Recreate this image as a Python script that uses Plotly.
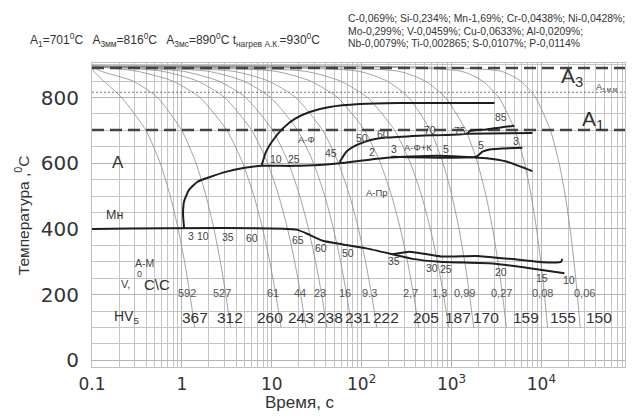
import math
import plotly.graph_objects as go

# ---------------- data ----------------
A3_T = 890
AS_T = 816
A1_T = 701

X_MIN_LOG, X_MAX_LOG = -1, 4.93
Y_MIN, Y_MAX = -20, 905

# thick transformation lines (time s, temperature C)
FERR_START_T = [7.74, 8.6, 10.3, 13.3, 18, 26.4, 44, 95, 264, 3005]
FERR_START_Y = [595, 634, 670, 706, 735, 756, 771, 780, 783, 783]

NOSE_T = [1.06, 1.03, 1.06, 1.2, 1.48, 2.05, 3.0, 5.0, 7.74, 17, 34, 57, 190, 681, 2449, 4084, 7943]
NOSE_Y = [400, 446, 485, 519, 543, 558, 573, 586, 592, 592, 595, 600, 617, 623, 615, 605, 576]

PERL_T = [57, 67.6, 87.3, 123, 188, 441, 1506, 1585, 2432, 5012]
PERL_Y = [604, 635, 655, 670, 678, 684, 690, 698, 703, 714]
PERL2_T = [1506, 7943]
PERL2_Y = [690, 692]

AFK_T = [214, 1879, 2210, 2643, 6152]
AFK_Y = [620, 620, 635, 642, 647]

MS_T = [0.1, 18.8, 26.4, 36.9, 61.5, 113, 221, 369, 736, 2856, 6808, 18030]
MS_Y = [400, 398, 382, 364, 353, 341, 323, 309, 300, 295, 282, 265]

BAIN_T = [221, 341, 794, 1896, 4406, 10260, 16560, 17000]
BAIN_Y = [323, 331, 316, 318, 309, 299, 300, 309]

# cooling curves: common start point, then times at COOL_TEMPS
COOL_START = (0.1, 895)
COOL_TEMPS = [880, 850, 800, 700, 600, 500, 400, 300, 200, 100]
COOL_TIMES = [
    [0.105, 0.135, 0.2135, 0.398, 0.574, 0.743, 0.909, 1.071, 1.23, 1.387],
    [0.126, 0.286, 0.535, 0.997, 1.437, 1.86, 2.275, 2.681, 3.08, 3.473],
    [0.317, 0.793, 1.586, 3.171, 4.757, 6.343, 7.929, 9.514, 11.1, 12.69],
    [0.6, 1.5, 3.0, 6.0, 9.0, 12.0, 15.0, 18.0, 21.0, 24.0],
    [1.026, 2.564, 5.129, 10.26, 15.39, 20.51, 25.64, 30.77, 35.9, 41.03],
    [1.946, 4.864, 9.729, 19.46, 29.19, 38.91, 48.64, 58.37, 68.1, 77.83],
    [3.686, 9.214, 18.43, 36.86, 55.29, 73.71, 92.14, 110.6, 129, 147.4],
    [10.8, 27, 54, 108, 162, 216, 270, 324, 378, 432],
    [23.3, 58.2, 116.4, 232.9, 349.3, 465.7, 582.1, 698.6, 815, 931.4],
    [92.2, 191.8, 334.4, 581.7, 805.2, 1013, 1211, 1401, 1585, 1764],
    [256.2, 508.8, 855.4, 1442, 1954, 2422, 2865, 3285, 3687, 4074],
    [1280, 2214, 3359, 5092, 6498, 7718, 8824, 9846, 10800, 11700],
    [3552, 5873, 8609, 12600, 15750, 18450, 20860, 23060, 25100, 27010],
]

RATE_LABELS = ["592", "527", "61", "44", "23", "16", "9.3", "2,7", "1,3", "0,99", "0,27", "0,08", "0,06"]
RATE_POS_T = [1.14, 2.78, 10.3, 20.5, 34.1, 64.7, 123, 350, 736, 1393, 3594, 10260, 30060]
HV_VALUES = [367, 312, 260, 243, 238, 231, 222, 205, 187, 170, 159, 155, 150]
HV_POS_T = [1.39, 3.41, 9.5, 21, 44.1, 90.3, 185, 514, 1166, 2449, 6808, 17550, 44070]

# fractions (%) of structure written along the lines
PHASE_NUMS = [
    ("10", 11.1, 613), ("25", 17.6, 613), ("45", 45.3, 631), ("50", 102, 677),
    ("60", 175, 689), ("70", 570, 701), ("75", 1227, 698), ("85", 3594, 741),
    ("2", 132, 634), ("3", 227, 643), ("5", 858, 643), ("5", 2154, 656), ("3", 5272, 668),
    ("3", 1.26, 379), ("10", 1.71, 379), ("35", 3.24, 376), ("60", 6.0, 372),
    ("65", 19.4, 366), ("60", 35, 342), ("50", 69.9, 327), ("35", 227, 302),
    ("30", 600, 281), ("25", 858, 278), ("20", 3594, 269), ("15", 10260, 251), ("10", 20470, 245),
]

X_TICKS = [0.1, 1, 10, 100, 1000, 10000]
X_TICKTEXT = ["0.1", "1", "10", "10<sup>2</sup>", "10<sup>3</sup>", "10<sup>4</sup>"]
Y_TICKS = [0, 200, 400, 600, 800]

# ---------------- figure ----------------
FONT = "Liberation Sans, Arial, sans-serif"
WIDE = "DejaVu Sans, Liberation Sans, sans-serif"
fig = go.Figure()

for times in COOL_TIMES:
    fig.add_trace(go.Scatter(x=[COOL_START[0]] + times, y=[COOL_START[1]] + COOL_TEMPS,
                             mode="lines", line=dict(color="#8c8c8c", width=0.8, shape="spline", smoothing=0.6),
                             hoverinfo="skip", showlegend=False))

xr = [10 ** X_MIN_LOG, 10 ** X_MAX_LOG]
fig.add_trace(go.Scatter(x=xr, y=[A3_T, A3_T], mode="lines",
                         line=dict(color="#444", width=2.6, dash="12px,6px"), showlegend=False))
fig.add_trace(go.Scatter(x=xr, y=[AS_T, AS_T], mode="lines",
                         line=dict(color="#777", width=1, dash="2px,2px"), showlegend=False))
fig.add_trace(go.Scatter(x=xr, y=[A1_T, A1_T], mode="lines",
                         line=dict(color="#444", width=2.6, dash="12px,6px"), showlegend=False))

for xs, ys in [(FERR_START_T, FERR_START_Y), (NOSE_T, NOSE_Y), (PERL_T, PERL_Y),
               (PERL2_T, PERL2_Y), (AFK_T, AFK_Y), (MS_T, MS_Y), (BAIN_T, BAIN_Y)]:
    fig.add_trace(go.Scatter(x=xs, y=ys, mode="lines",
                             line=dict(color="#1e1e1e", width=2, shape="spline", smoothing=0.5),
                             hoverinfo="skip", showlegend=False))

ann = []


def add_text(text, x, y, size, color="#333", xref="x", yref="y", xanchor="center", family=FONT, **kw):
    if xref == "x":
        x = math.log10(x)
    ann.append(dict(text=text, x=x, y=y, xref=xref, yref=yref, showarrow=False,
                    font=dict(size=size, color=color, family=family), xanchor=xanchor, yanchor="middle", **kw))


for lab, t in zip(RATE_LABELS, RATE_POS_T):
    add_text(lab, t, 204, 11, "#555")
for hv, t in zip(HV_VALUES, HV_POS_T):
    add_text(str(hv), t, 132, 15.5, "#333")
for lab, t, T in PHASE_NUMS:
    add_text(lab, t, T, 10.5, "#444")

add_text("A", 0.194, 601, 17, "#333")
add_text("Мн", 0.18, 442, 12.5, "#333")
add_text("А-Ф", 24.5, 671, 9.5, "#444")
add_text("А-Ф+К", 419, 649, 9.5, "#444")
add_text("А-Пр", 147, 512, 9.5, "#444")
add_text("А-М", 0.388, 296, 10.5, "#444")
add_text("V,", 0.233, 232, 11, "#444")
add_text("0", 0.341, 263, 9, "#444")
add_text("C\\C", 0.527, 232, 15, "#333")
add_text("HV<sub>5</sub>", 0.245, 132, 14, "#333")
add_text("A<sub>3</sub>", 22100, 862, 21, "#333")
add_text("A<sub>з.м.м</sub>", 52700, 829, 9, "#444")
add_text("A<sub>1</sub>", 37840, 731, 21, "#333")

# header texts (paper coordinates)
add_text("A<sub>1</sub>=701<sup>0</sup>C   A<sub>3мм</sub>=816<sup>0</sup>C   A<sub>3мс</sub>=890<sup>0</sup>C t<sub>нагрев А.К.</sub>=930<sup>0</sup>C",
         -0.12, 1.075, 12, "#333", xref="paper", yref="paper", xanchor="left")
add_text("C-0,069%; Si-0,234%; Mn-1,69%; Cr-0,0438%; Ni-0,0428%;", 0.476, 1.148, 10.4, "#333",
         xref="paper", yref="paper", xanchor="left")
add_text("Mo-0,299%; V-0,0459%; Cu-0,0633%; Al-0,0209%;", 0.476, 1.105, 10.4, "#333",
         xref="paper", yref="paper", xanchor="left")
add_text("Nb-0,0079%; Ti-0,002865; S-0,0107%; P-0,0114%", 0.476, 1.064, 10.4, "#333",
         xref="paper", yref="paper", xanchor="left")

add_text("Температура ,<sup>0</sup>C", -0.131, 0.5, 15.5, "#333", xref="paper", yref="paper", textangle=-90)
add_text("Время, с", 0.39, -0.117, 17, "#333", xref="paper", yref="paper")

minor_x = [m * 10 ** e for e in range(-1, 5) for m in range(2, 10)]

# the page shows the figure with an 8 px body margin, so the figure is 8 px smaller
fig.update_layout(
    width=634, height=408,
    margin=dict(l=84, r=17, t=55, b=49),
    paper_bgcolor="white", plot_bgcolor="white",
    showlegend=False,
    annotations=ann,
    xaxis=dict(type="log", range=[X_MIN_LOG, X_MAX_LOG], tickvals=X_TICKS, ticktext=X_TICKTEXT,
               showgrid=True, gridcolor="#b4b4b4", gridwidth=1,
               minor=dict(tickvals=minor_x, showgrid=True, gridcolor="#c4c4c4", gridwidth=0.8, ticks=""),
               showline=True, linecolor="#c0c0c0", mirror=True, zeroline=False, ticks="",
               ticklabelstandoff=2,
               tickfont=dict(size=17, color="#333", family=WIDE)),
    yaxis=dict(range=[Y_MIN, Y_MAX], tickvals=Y_TICKS,
               showgrid=True, gridcolor="#b4b4b4", gridwidth=1,
               minor=dict(dtick=50, showgrid=True, gridcolor="#c4c4c4", gridwidth=0.8, ticks=""),
               showline=True, linecolor="#c0c0c0", mirror=True, zeroline=False, ticks="",
               ticklabelstandoff=8,
               tickfont=dict(size=20, color="#333", family=WIDE)),
)

fig.write_html("out.html")
